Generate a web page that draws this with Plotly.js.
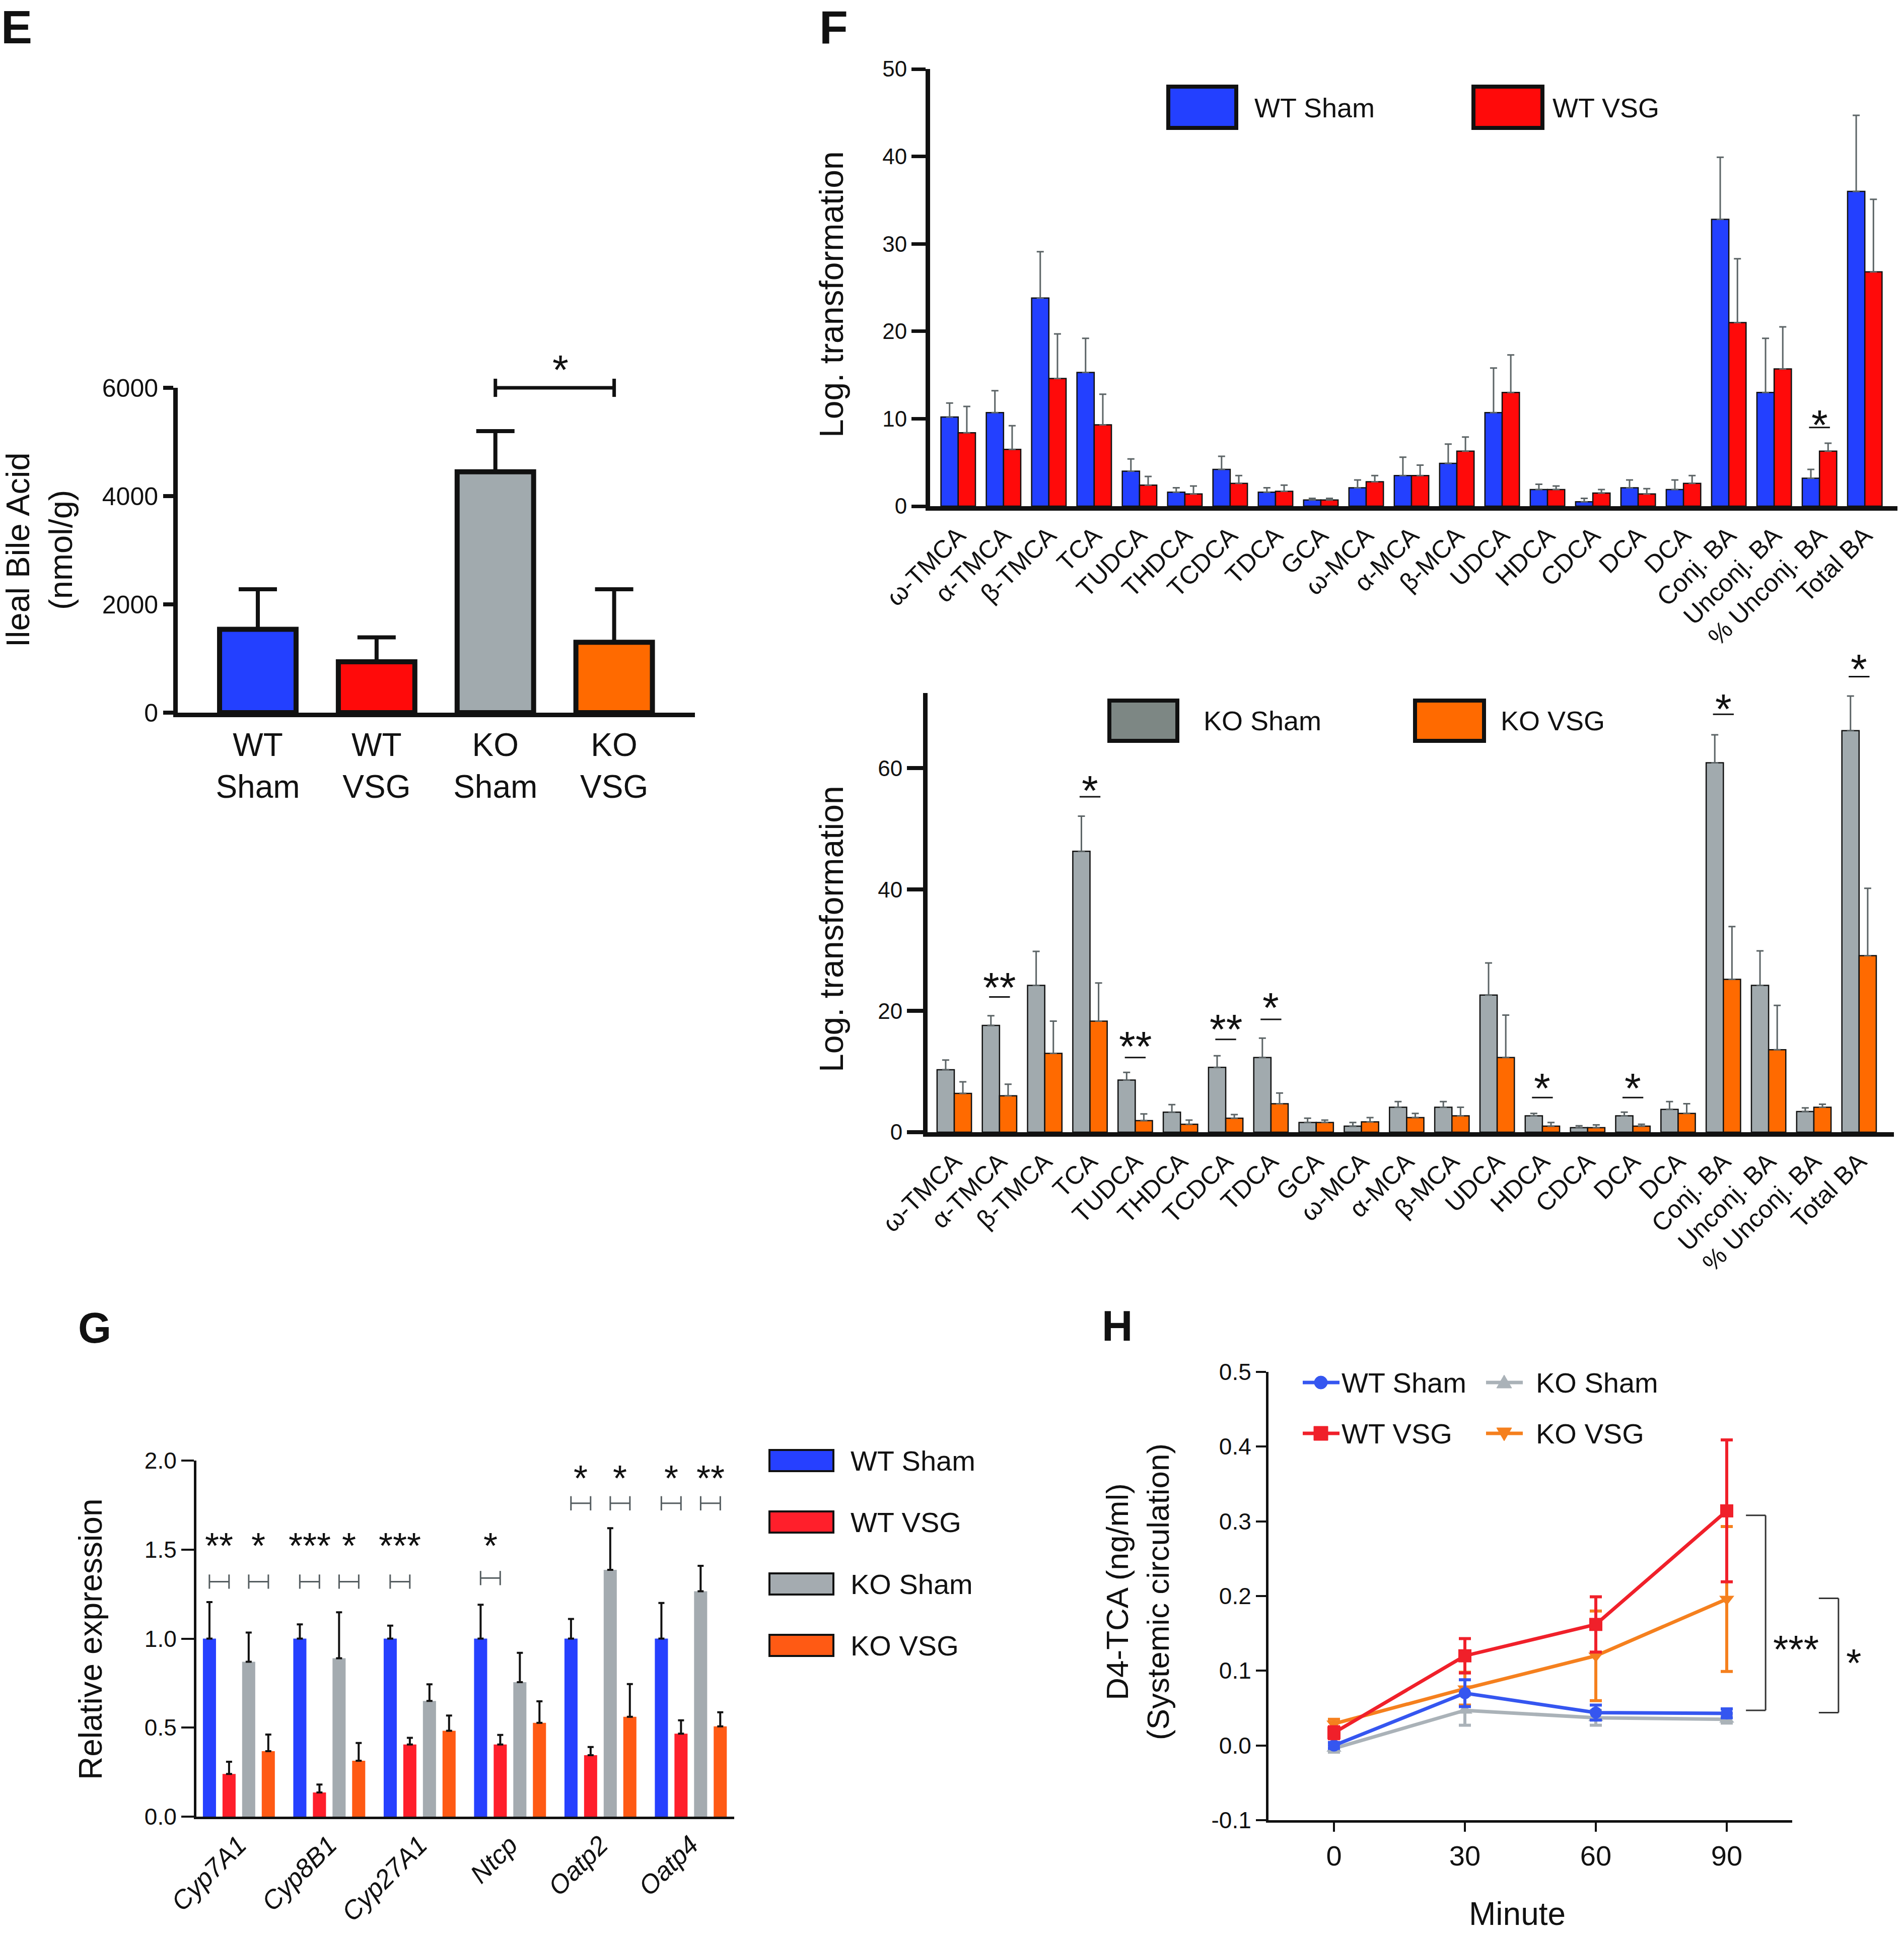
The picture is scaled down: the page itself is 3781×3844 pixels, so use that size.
<!DOCTYPE html>
<html>
<head>
<meta charset="utf-8">
<script src="https://cdn.plot.ly/plotly-3.0.1.min.js"></script>
<style>
  body { margin: 0; background: #fff; }
  #chart { width: 3781px; height: 3844px; }
</style>
</head>
<body>
<div id="chart"></div>
<script>
// ---- panel E: ileal bile acid ----
var eGroups = ['WT<br>Sham', 'WT<br>VSG', 'KO<br>Sham', 'KO<br>VSG'];
var eMean = [1540, 940, 4450, 1300];
var eErr = [740, 450, 750, 980];

// ---- panel F: bile acid species ----
var baNames = ['ω-TMCA', 'α-TMCA', 'β-TMCA', 'TCA', 'TUDCA', 'THDCA', 'TCDCA', 'TDCA', 'GCA',
    'ω-MCA', 'α-MCA', 'β-MCA', 'UDCA', 'HDCA', 'CDCA', 'DCA', 'DCA',
    'Conj. BA', 'Unconj. BA', '% Unconj. BA', 'Total BA'];
var wtShamBA = [10.2, 10.7, 23.8, 15.3, 4.0, 1.6, 4.2, 1.6, 0.7, 2.1, 3.5, 4.9, 10.7, 1.9, 0.5, 2.1, 1.9, 32.8, 13.0, 3.2, 36.0];
var wtShamBAErr = [1.6, 2.5, 5.3, 3.9, 1.4, 0.5, 1.5, 0.5, 0.2, 0.9, 2.1, 2.2, 5.1, 0.6, 0.4, 0.9, 1.1, 7.1, 6.2, 1.0, 8.7];
var wtVsgBA = [8.4, 6.5, 14.6, 9.3, 2.4, 1.4, 2.6, 1.7, 0.7, 2.8, 3.5, 6.3, 13.0, 1.9, 1.5, 1.4, 2.6, 21.0, 15.7, 6.3, 26.8];
var wtVsgBAErr = [3.0, 2.7, 5.1, 3.5, 1.0, 0.9, 0.9, 0.7, 0.2, 0.7, 1.2, 1.6, 4.3, 0.4, 0.4, 0.6, 0.9, 7.3, 4.8, 0.9, 8.3];
var koShamBA = [10.3, 17.6, 24.2, 46.3, 8.6, 3.3, 10.7, 12.3, 1.6, 1.0, 4.1, 4.1, 22.6, 2.7, 0.75, 2.7, 3.75, 60.9, 24.2, 3.4, 66.2];
var koShamBAErr = [1.6, 1.6, 5.6, 5.8, 1.25, 1.25, 1.9, 3.2, 0.7, 0.6, 0.95, 0.95, 5.3, 0.4, 0.3, 0.6, 1.3, 4.6, 5.7, 0.6, 5.7];
var koVsgBA = [6.4, 6.0, 13.0, 18.3, 1.9, 1.3, 2.3, 4.7, 1.6, 1.7, 2.4, 2.7, 12.3, 1.0, 0.75, 1.0, 3.1, 25.2, 13.6, 4.1, 29.1];
var koVsgBAErr = [1.9, 1.9, 5.3, 6.3, 1.1, 0.7, 0.6, 1.75, 0.4, 0.7, 0.7, 1.4, 7.0, 0.6, 0.45, 0.3, 1.6, 8.7, 7.3, 0.5, 11.1];
// significance marks (index into baNames, label, line level, star level)
var fTopSigIdx = [19];
var fTopSigText = ['*'];
var fTopSigLine = [9.0];
var fTopSigStar = [10.0];
var fBotSigIdx = [1, 3, 4, 6, 7, 13, 15, 17, 20];
var fBotSigText = ['**', '*', '**', '**', '*', '*', '*', '*', '*'];
var fBotSigLine = [22.3, 55.3, 12.3, 15.3, 18.6, 5.7, 5.7, 68.9, 75.1];
var fBotSigStar = [24.9, 57.4, 15.2, 18.0, 21.6, 8.3, 8.3, 70.8, 77.4];

// ---- panel G: gene expression ----
var genes = ['Cyp7A1', 'Cyp8B1', 'Cyp27A1', 'Ntcp', 'Oatp2', 'Oatp4'];
var gWtSham = [1, 1, 1, 1, 1, 1];
var gWtShamErr = [0.205, 0.08, 0.073, 0.19, 0.11, 0.2];
var gWtVsg = [0.24, 0.136, 0.405, 0.405, 0.345, 0.466];
var gWtVsgErr = [0.068, 0.044, 0.038, 0.054, 0.046, 0.075];
var gKoSham = [0.87, 0.89, 0.65, 0.755, 1.386, 1.266];
var gKoShamErr = [0.164, 0.258, 0.093, 0.165, 0.234, 0.143];
var gKoVsg = [0.368, 0.314, 0.482, 0.527, 0.561, 0.507];
var gKoVsgErr = [0.093, 0.1, 0.086, 0.121, 0.184, 0.079];
// pair 0 = WT Sham vs WT VSG, pair 1 = KO Sham vs KO VSG
var gSigGene = [0, 0, 1, 1, 2, 3, 4, 4, 5, 5];
var gSigPair = [0, 1, 0, 1, 0, 0, 0, 1, 0, 1];
var gSigText = ['**', '*', '***', '*', '***', '*', '*', '*', '*', '**'];
var gSigLine = [1.32, 1.32, 1.32, 1.32, 1.32, 1.34, 1.76, 1.76, 1.76, 1.76];
var gSigStar = [1.55, 1.55, 1.55, 1.55, 1.55, 1.55, 1.93, 1.93, 1.93, 1.93];

// ---- panel H: D4-TCA time course ----
var minutes = [0, 30, 60, 90];
var hWtSham = [0.0, 0.070, 0.044, 0.043];
var hWtShamErr = [0.004, 0.018, 0.01, 0.006];
var hWtVsg = [0.017, 0.120, 0.162, 0.314];
var hWtVsgErr = [0.008, 0.023, 0.037, 0.095];
var hKoSham = [-0.004, 0.047, 0.037, 0.035];
var hKoShamErr = [0.005, 0.02, 0.01, 0.005];
var hKoVsg = [0.029, 0.076, 0.120, 0.196];
var hKoVsgErr = [0.006, 0.022, 0.06, 0.097];
var hSigX = [98.9, 115.6];
var hSigTop = [0.308, 0.197];
var hSigBottom = [0.047, 0.044];
var hSigStar = [0.137, 0.119];
var hSigText = ['***', '*'];

// ---------------------------------------------------------------
var W = 3781, H = 3844;
function P(px) { return px / W; }
function Q(py) { return 1 - py / H; }
function frac(r, v) { return (v - r[0]) / (r[1] - r[0]); }

var ARIAL = 'Liberation Sans, Arial, Helvetica, sans-serif';
var NARROW = 'Liberation Sans Narrow, Arial Narrow, Liberation Sans, Arial, sans-serif';
var INK = '#111111';

var BLUE = '#2340ff', RED = '#ff0a0a', GREY = '#a1aaae', ORANGE = '#ff6a00';
var G_BLUE = '#2640ff', G_RED = '#ff1f2b', G_GREY = '#a4abb0', G_ORANGE = '#ff5a14';
var H_BLUE = '#3556f0', H_RED = '#f0202a', H_GREY = '#aab2b8', H_ORANGE = '#f5801e';

var eXR = [-0.674, 3.68], eYR = [0, 6000];
var fTopXR = [-0.62, 20.72], fTopYR = [0, 50];
var fBotXR = [-0.59, 20.77], fBotYR = [0, 72.4];
var gXR = [-0.47, 5.48], gYR = [0, 2];
var hXR = [-15, 105], hYR = [-0.1, 0.5];

var baIdx = baNames.map(function(d, i) { return i; });
var geneIdx = genes.map(function(d, i) { return i; });

function zeros(n) { var a = []; for (var i = 0; i < n; i++) a.push(0); return a; }

function upErr(arr, color, thick, w) {
    return { type: 'data', symmetric: false, array: arr, arrayminus: zeros(arr.length),
        color: color, thickness: thick, width: w };
}

var data = [];

// E
data.push({
    type: 'bar', x: eGroups, y: eMean, xaxis: 'x', yaxis: 'y',
    width: 0.644,
    marker: { color: [BLUE, RED, GREY, ORANGE], line: { color: INK, width: 10 } },
    error_y: upErr(eErr, INK, 8, 38),
    cliponaxis: false
});

// F top / bottom
function fBar(y, err, color, off, xa, ya) {
    return {
        type: 'bar', x: baIdx, y: y, xaxis: xa, yaxis: ya,
        width: 0.38, offset: off,
        marker: { color: color, line: { color: INK, width: 2.5 } },
        error_y: upErr(err, '#5c6466', 3, 7),
        cliponaxis: false
    };
}
data.push(fBar(wtShamBA, wtShamBAErr, BLUE, -0.38, 'x2', 'y2'));
data.push(fBar(wtVsgBA, wtVsgBAErr, RED, 0, 'x2', 'y2'));
data.push(fBar(koShamBA, koShamBAErr, GREY, -0.38, 'x3', 'y3'));
data.push(fBar(koVsgBA, koVsgBAErr, ORANGE, 0, 'x3', 'y3'));

// G
var gOffsets = [-0.398, -0.181, 0.036, 0.253];
[[gWtSham, gWtShamErr, G_BLUE], [gWtVsg, gWtVsgErr, G_RED],
 [gKoSham, gKoShamErr, G_GREY], [gKoVsg, gKoVsgErr, G_ORANGE]].forEach(function(s, k) {
    data.push({
        type: 'bar', x: geneIdx, y: s[0], xaxis: 'x4', yaxis: 'y4',
        width: 0.145, offset: gOffsets[k],
        marker: { color: s[2], line: { width: 0 } },
        error_y: upErr(s[1], INK, 4, 6),
        cliponaxis: false
    });
});

// H
function hLine(y, err, color, symbol, size) {
    return {
        type: 'scatter', mode: 'lines+markers', x: minutes, y: y, xaxis: 'x5', yaxis: 'y5',
        line: { color: color, width: 7 },
        marker: { color: color, symbol: symbol, size: size },
        error_y: { type: 'data', array: err, color: color, thickness: 6, width: 12 },
        cliponaxis: false
    };
}
data.push(hLine(hKoSham, hKoShamErr, H_GREY, 'triangle-up', 26));
data.push(hLine(hKoVsg, hKoVsgErr, H_ORANGE, 'triangle-down', 26));
data.push(hLine(hWtSham, hWtShamErr, H_BLUE, 'circle', 24));
data.push(hLine(hWtVsg, hWtVsgErr, H_RED, 'square', 26));

// ---------------------------------------------------------------
var shapes = [];
var ann = [];

function text(x, y, t, size, opts) {
    var a = { xref: 'paper', yref: 'paper', x: P(x), y: Q(y), text: t, showarrow: false,
        xanchor: 'center', yanchor: 'middle', font: { family: ARIAL, size: size, color: INK } };
    for (var k in opts) a[k] = opts[k];
    return a;
}

function star(xref, yref, x, y, t, size, shift, family) {
    return { xref: xref, yref: yref, x: x, y: y, text: t, showarrow: false,
        xanchor: 'center', yanchor: 'middle', yshift: shift,
        font: { family: family || ARIAL, size: size, color: INK } };
}

// panel letters
ann.push(text(33, 0, '<b>E</b>', 93, { yanchor: 'top' }));
ann.push(text(1655, 0, '<b>F</b>', 93, { yanchor: 'top' }));
ann.push(text(188, 2636, '<b>G</b>', 85));
ann.push(text(2218, 2632, '<b>H</b>', 85));

// axis titles
ann.push(text(78, 1092, 'Ileal Bile Acid<br>(nmol/g)', 65, { textangle: -90 }));
ann.push(text(1651, 585, 'Log. transformation', 66, { textangle: -90 }));
ann.push(text(1651, 1845, 'Log. transformation', 66, { textangle: -90 }));
ann.push(text(180, 3255, 'Relative expression', 64, { textangle: -90 }));
ann.push(text(2259, 3161, 'D4-TCA (ng/ml)<br>(Systemic circulation)', 62, { textangle: -90 }));
ann.push(text(3013, 3800, 'Minute', 64, { font: { family: NARROW, size: 64, color: INK } }));

// E significance bracket
(function() {
    var x0 = frac(eXR, 2), x1 = frac(eXR, 3), y = frac(eYR, 6000);
    var cap = 0.028;
    var base = { type: 'line', xref: 'x domain', yref: 'y domain', line: { color: INK, width: 7 } };
    shapes.push(Object.assign({}, base, { x0: x0, x1: x1, y0: y, y1: y }));
    shapes.push(Object.assign({}, base, { x0: x0, x1: x0, y0: y - cap, y1: y + cap }));
    shapes.push(Object.assign({}, base, { x0: x1, x1: x1, y0: y - cap, y1: y + cap }));
    ann.push(star('x domain', 'y domain', frac(eXR, 2.55), frac(eYR, 6465), '*', 82, -13));
})();

// F significance marks
function fSig(idx, txt, line, st, xr, yr, xa, ya) {
    for (var i = 0; i < idx.length; i++) {
        shapes.push({ type: 'line', xref: xa + ' domain', yref: ya + ' domain',
            x0: frac(xr, idx[i] - 0.23), x1: frac(xr, idx[i] + 0.23),
            y0: frac(yr, line[i]), y1: frac(yr, line[i]), line: { color: INK, width: 3 } });
        ann.push(star(xa + ' domain', ya + ' domain', frac(xr, idx[i]), frac(yr, st[i]), txt[i], 84, -13));
    }
}
fSig(fTopSigIdx, fTopSigText, fTopSigLine, fTopSigStar, fTopXR, fTopYR, 'x2', 'y2');
fSig(fBotSigIdx, fBotSigText, fBotSigLine, fBotSigStar, fBotXR, fBotYR, 'x3', 'y3');

// G significance brackets
var gCenters = [-0.326, -0.109, 0.109, 0.326];
for (var i = 0; i < gSigGene.length; i++) {
    var a = gSigGene[i] + gCenters[gSigPair[i] * 2];
    var b = gSigGene[i] + gCenters[gSigPair[i] * 2 + 1];
    var y = frac(gYR, gSigLine[i]);
    var cap = 0.02;
    var base = { type: 'line', xref: 'x4 domain', yref: 'y4 domain', line: { color: '#555d60', width: 3 } };
    shapes.push(Object.assign({}, base, { x0: frac(gXR, a), x1: frac(gXR, b), y0: y, y1: y }));
    shapes.push(Object.assign({}, base, { x0: frac(gXR, a), x1: frac(gXR, a), y0: y - cap, y1: y + cap }));
    shapes.push(Object.assign({}, base, { x0: frac(gXR, b), x1: frac(gXR, b), y0: y - cap, y1: y + cap }));
    ann.push(star('x4 domain', 'y4 domain', frac(gXR, (a + b) / 2), frac(gYR, gSigStar[i]),
        gSigText[i], 72, -10, NARROW));
}

// H significance brackets (outside the plot, right side)
for (var j = 0; j < hSigX.length; j++) {
    var bx = frac(hXR, hSigX[j]), tx = frac(hXR, hSigX[j] - 4.5);
    var yt = frac(hYR, hSigTop[j]), yb = frac(hYR, hSigBottom[j]);
    var hb = { type: 'line', xref: 'x5 domain', yref: 'y5 domain', line: { color: '#333333', width: 3 } };
    shapes.push(Object.assign({}, hb, { x0: bx, x1: bx, y0: yb, y1: yt }));
    shapes.push(Object.assign({}, hb, { x0: tx, x1: bx, y0: yt, y1: yt }));
    shapes.push(Object.assign({}, hb, { x0: tx, x1: bx, y0: yb, y1: yb }));
    var sa = star('x5 domain', 'y5 domain', frac(hXR, hSigX[j] + 1.5), frac(hYR, hSigStar[j]),
        hSigText[j], 78, -13, NARROW);
    sa.xanchor = 'left';
    ann.push(sa);
}

// legend boxes (F and G)
function box(x0, y0, x1, y1, fill, lw) {
    shapes.push({ type: 'rect', xref: 'paper', yref: 'paper', x0: P(x0), x1: P(x1), y0: Q(y1), y1: Q(y0),
        fillcolor: fill, line: { color: INK, width: lw } });
}
box(2320, 172, 2455, 254, BLUE, 8);
box(2926, 172, 3063, 254, RED, 8);
ann.push(text(2489, 214, 'WT Sham', 54, { xanchor: 'left' }));
ann.push(text(3081, 214, 'WT VSG', 54, { xanchor: 'left' }));
box(2203, 1391, 2338, 1471, '#7d8784', 8);
box(2810, 1391, 2947, 1471, ORANGE, 8);
ann.push(text(2388, 1431, 'KO Sham', 54, { xanchor: 'left' }));
ann.push(text(2978, 1431, 'KO VSG', 54, { xanchor: 'left' }));

var gLegNames = ['WT Sham', 'WT VSG', 'KO Sham', 'KO VSG'];
var gLegFill = [G_BLUE, G_RED, G_GREY, G_ORANGE];
var gLegY = [2900, 3022, 3145, 3267];
for (var k = 0; k < 4; k++) {
    box(1528, gLegY[k] - 21, 1655, gLegY[k] + 21, gLegFill[k], 4);
    ann.push(text(1687, gLegY[k], gLegNames[k], 56,
        { xanchor: 'left', font: { family: NARROW, size: 56, color: INK } }));
}

// H legend: line + marker + label
function hLegend(lx, ly, color, kind, label, tx) {
    shapes.push({ type: 'line', xref: 'paper', yref: 'paper', x0: P(lx), x1: P(lx + 73), y0: Q(ly), y1: Q(ly),
        line: { color: color, width: 7 } });
    var m = { xref: 'paper', yref: 'paper', xsizemode: 'pixel', ysizemode: 'pixel',
        xanchor: P(lx + 36), yanchor: Q(ly), fillcolor: color, line: { color: color, width: 1 } };
    if (kind === 'circle') Object.assign(m, { type: 'circle', x0: -13, x1: 13, y0: -13, y1: 13 });
    if (kind === 'square') Object.assign(m, { type: 'rect', x0: -14, x1: 14, y0: -14, y1: 14 });
    if (kind === 'up') Object.assign(m, { type: 'path', path: 'M-15,-11L15,-11L0,15Z' });
    if (kind === 'down') Object.assign(m, { type: 'path', path: 'M-15,11L15,11L0,-15Z' });
    shapes.push(m);
    ann.push(text(tx, ly, label, 56, { xanchor: 'left', font: { family: NARROW, size: 56, color: INK } }));
}
hLegend(2587, 2745, H_BLUE, 'circle', 'WT Sham', 2662);
hLegend(2951, 2745, H_GREY, 'up', 'KO Sham', 3048);
hLegend(2587, 2846, H_RED, 'square', 'WT VSG', 2662);
hLegend(2951, 2846, H_ORANGE, 'down', 'KO VSG', 3048);

// ---------------------------------------------------------------
function axisBase(extra) {
    var a = { showgrid: false, zeroline: false, showline: true, linecolor: INK, fixedrange: true,
        tickcolor: INK };
    for (var k in extra) a[k] = extra[k];
    return a;
}

var layout = {
    width: W, height: H,
    margin: { l: 0, r: 0, t: 0, b: 0 },
    paper_bgcolor: '#ffffff', plot_bgcolor: 'rgba(0,0,0,0)',
    showlegend: false,
    barmode: 'overlay',
    font: { family: ARIAL, color: INK },

    xaxis: axisBase({ domain: [P(353), P(1380)], range: eXR, anchor: 'y', type: 'category',
        linewidth: 9, ticks: '', tickfont: { size: 64, family: ARIAL } }),
    yaxis: axisBase({ domain: [Q(1415), Q(770)], range: eYR, anchor: 'x', linewidth: 9,
        tickvals: [0, 2000, 4000, 6000], ticks: 'outside', ticklen: 20, tickwidth: 8,
        tickfont: { size: 50, family: ARIAL } }),

    xaxis2: axisBase({ domain: [P(1847), P(3768)], range: fTopXR, anchor: 'y2', linewidth: 9,
        tickvals: baIdx, ticktext: baNames, tickangle: -45, ticks: '', tickfont: { size: 50, family: ARIAL } }),
    yaxis2: axisBase({ domain: [Q(1005), Q(137)], range: fTopYR, anchor: 'x2', linewidth: 9,
        tickvals: [0, 10, 20, 30, 40, 50], ticks: 'outside', ticklen: 28, tickwidth: 7,
        tickfont: { size: 44, family: ARIAL } }),

    xaxis3: axisBase({ domain: [P(1842), P(3761)], range: fBotXR, anchor: 'y3', linewidth: 9,
        tickvals: baIdx, ticktext: baNames, tickangle: -45, ticks: '', tickfont: { size: 50, family: ARIAL } }),
    yaxis3: axisBase({ domain: [Q(2248), Q(1376)], range: fBotYR, anchor: 'x3', linewidth: 9,
        tickvals: [0, 20, 40, 60], ticks: 'outside', ticklen: 32, tickwidth: 8,
        tickfont: { size: 44, family: ARIAL } }),

    xaxis4: axisBase({ domain: [P(390), P(1458)], range: gXR, anchor: 'y4', linewidth: 5,
        tickvals: geneIdx, ticktext: genes.map(function(g) { return '<i>' + g + '</i>'; }),
        tickangle: -45, ticks: '', tickfont: { size: 52, family: NARROW } }),
    yaxis4: axisBase({ domain: [Q(3607), Q(2900)], range: gYR, anchor: 'x4', linewidth: 5,
        tickvals: [0, 0.5, 1, 1.5, 2], ticktext: ['0.0', '0.5', '1.0', '1.5', '2.0'],
        ticks: 'outside', ticklen: 25, tickwidth: 4, tickfont: { size: 46, family: NARROW } }),

    xaxis5: axisBase({ domain: [P(2519), P(3559)], range: hXR, anchor: 'y5', linewidth: 5,
        tickvals: minutes, ticks: 'outside', ticklen: 18, tickwidth: 4,
        tickfont: { size: 56, family: NARROW } }),
    yaxis5: axisBase({ domain: [Q(3614), Q(2724)], range: hYR, anchor: 'x5', linewidth: 5,
        tickvals: [-0.1, 0, 0.1, 0.2, 0.3, 0.4, 0.5],
        ticktext: ['-0.1', '0.0', '0.1', '0.2', '0.3', '0.4', '0.5'],
        ticks: 'outside', ticklen: 20, tickwidth: 4, tickfont: { size: 46, family: NARROW } }),

    shapes: shapes,
    annotations: ann
};

Plotly.newPlot('chart', data, layout, { displayModeBar: false, staticPlot: true });
</script>
</body>
</html>
